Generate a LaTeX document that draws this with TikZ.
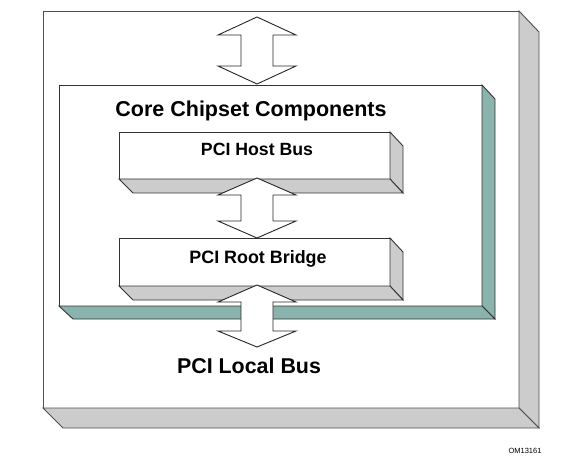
\documentclass[tikz,border=0pt]{standalone}
\usepackage{fontspec}
\setmainfont{Liberation Sans}
\definecolor{sidegray}{HTML}{CCCCCC}
\definecolor{coreteal}{HTML}{8BB3AD}
\definecolor{edgegray}{HTML}{505050}

\begin{document}
\begin{tikzpicture}[x=1pt,y=-1pt,line join=miter,line width=0.9pt]
	\useasboundingbox (0,0) rectangle (561,462);
	% outer box
	\draw [edgegray,fill=white] (43,11) rectangle (519,408);
	\draw [edgegray,fill=sidegray] (519,11) -- (539,32) -- (539,428) -- (519,408) -- cycle;
	\draw [edgegray,fill=sidegray] (43,408) -- (519,408) -- (539,428) -- (63,428) -- cycle;
	% top arrow
	\draw [black!85,fill=white] (257,17) -- (296,35) -- (273,35) -- (273,66) -- (296,66) -- (257,84) -- (218,66) -- (241,66) -- (241,35) -- (218,35) -- cycle;
	% core chipset box
	\draw [black!80,fill=white] (59,85) rectangle (482,306);
	\draw [black!80,fill=coreteal] (482,85) -- (495,99) -- (495,319) -- (482,306) -- cycle;
	\draw [black!80,fill=coreteal] (59,306) -- (482,306) -- (495,319) -- (73,319) -- cycle;
	\node [anchor=base] (core) at (251,117) {\fontsize{21.5}{24}\selectfont\bfseries Core Chipset Components};
	% host bus
	\draw [black!80,fill=white] (119,132) rectangle (390,179);
	\draw [black!80,fill=sidegray] (390,132) -- (403,146) -- (403,193) -- (390,179) -- cycle;
	\draw [black!80,fill=sidegray] (119,179) -- (390,179) -- (403,193) -- (133,193) -- cycle;
	\node [anchor=base] (host) at (257,156) {\fontsize{17.7}{20}\selectfont\bfseries PCI Host Bus};
	% root bridge
	\draw [black!80,fill=white] (119,238) rectangle (390,286);
	\draw [black!80,fill=sidegray] (390,238) -- (403,252) -- (403,300) -- (390,286) -- cycle;
	\draw [black!80,fill=sidegray] (119,286) -- (390,286) -- (403,300) -- (133,300) -- cycle;
	\node [anchor=base] (root) at (258,263) {\fontsize{17.9}{20}\selectfont\bfseries PCI Root Bridge};
	% middle arrow
	\draw [black!85,fill=white] (257,178) -- (296,195) -- (273,195) -- (273,221) -- (296,221) -- (257,238) -- (218,221) -- (241,221) -- (241,195) -- (218,195) -- cycle;
	% bottom arrow
	\draw [black!85,fill=white] (257,285) -- (296,302) -- (273,302) -- (273,331) -- (296,331) -- (257,347) -- (218,331) -- (241,331) -- (241,302) -- (218,302) -- cycle;
	\node [anchor=base] (local) at (249,373) {\fontsize{21.4}{24}\selectfont\bfseries PCI Local Bus};
	\node [anchor=base] (tag) at (525,453) {\fontsize{7.5}{9}\selectfont OM13161};
\end{tikzpicture}
\end{document}
